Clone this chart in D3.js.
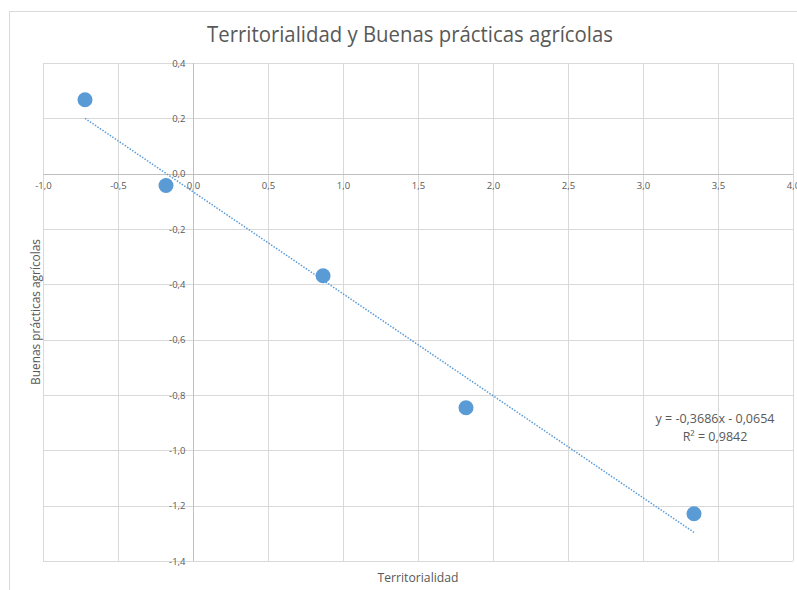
<!DOCTYPE html>
<html>
<head>
<meta charset="utf-8">
<script src="https://cdn.jsdelivr.net/npm/d3@7"></script>
<style>
	body { margin: 0; background: #fff; }
	text { font-family: 'Open Sans', sans-serif; fill: #595959; }
</style>
</head>
<body>
<div id="chart"></div>
<script>
// data
const territorialidad = [-0.72, -0.18, 0.867, 1.82, 3.34]
const buenasPracticas = [0.267, -0.043, -0.369, -0.846, -1.229]
const trend = {slope: -0.3686, intercept: -0.0654}
const trendLabels = ['y = -0,3686x - 0,0654', 'R² = 0,9842']
const xTicks = [-1.0, -0.5, 0.0, 0.5, 1.0, 1.5, 2.0, 2.5, 3.0, 3.5, 4.0]
const yTicks = [0.4, 0.2, 0.0, -0.2, -0.4, -0.6, -0.8, -1.0, -1.2, -1.4]

const width = 797, height = 590
const plot = {left: 43, right: 793, top: 63, bottom: 561}

const locale = d3.formatLocale({decimal: ',', thousands: '.', grouping: [3], currency: ['', ''], minus: '-'})
const fmt = locale.format('.1f')

const svg = d3.select('#chart').append('svg')
	.attr('width', width)
	.attr('height', height)

// chart area border
svg.append('rect')
	.attr('x', 9.5).attr('y', 11.5)
	.attr('width', 800).attr('height', 600)
	.attr('fill', 'none')
	.attr('stroke', '#d9d9d9')

const x = d3.scaleLinear().domain([-1, 4]).range([plot.left, plot.right])
const y = d3.scaleLinear().domain([-1.4, 0.4]).range([plot.bottom, plot.top])

// grid
svg.append('g')
	.selectAll('line.vg')
	.data(xTicks)
	.join('line')
	.attr('x1', d => Math.round(x(d)) + 0.5).attr('x2', d => Math.round(x(d)) + 0.5)
	.attr('y1', plot.top).attr('y2', plot.bottom)
	.attr('stroke', '#d9d9d9')

svg.append('g')
	.selectAll('line.hg')
	.data(yTicks)
	.join('line')
	.attr('y1', d => Math.round(y(d)) + 0.5).attr('y2', d => Math.round(y(d)) + 0.5)
	.attr('x1', plot.left).attr('x2', plot.right)
	.attr('stroke', '#d9d9d9')

// axes crossing at zero
const xAxis = svg.append('g')
	.attr('transform', `translate(0,${Math.round(y(0)) + 0.5})`)
	.call(d3.axisBottom(x).tickValues(xTicks).tickFormat(fmt).tickSize(0).tickPadding(8))
const yAxis = svg.append('g')
	.attr('transform', `translate(${Math.round(x(0)) + 0.5},0)`)
	.call(d3.axisLeft(y).tickValues(yTicks).tickFormat(fmt).tickSize(0).tickPadding(8))

for (const ax of [xAxis, yAxis]) {
	ax.select('.domain').attr('stroke', '#bfbfbf')
	ax.selectAll('text').style('font-size', '9.5px').attr('fill', '#808080')
}
xAxis.select('.domain').attr('d', `M${plot.left},0H${plot.right}`)
yAxis.select('.domain').attr('d', `M0,${plot.top}V${plot.bottom}`)

// trendline
const xMin = d3.min(territorialidad), xMax = d3.max(territorialidad)
svg.append('line')
	.attr('x1', x(xMin)).attr('y1', y(trend.slope * xMin + trend.intercept))
	.attr('x2', x(xMax)).attr('y2', y(trend.slope * xMax + trend.intercept))
	.attr('stroke', '#5b9bd5')
	.attr('stroke-width', 1.5)
	.attr('stroke-dasharray', '1.5,1.5')

// points
const points = territorialidad.map((v, i) => ({x: v, y: buenasPracticas[i]}))
svg.append('g')
	.selectAll('circle')
	.data(points)
	.join('circle')
	.attr('cx', d => x(d.x))
	.attr('cy', d => y(d.y))
	.attr('r', 7.5)
	.attr('fill', '#5b9bd5')

// trendline label
svg.append('g')
	.selectAll('text')
	.data(trendLabels)
	.join('text')
	.attr('x', 715)
	.attr('y', (d, i) => 423 + i * 18)
	.attr('text-anchor', 'middle')
	.style('font-size', '12.5px')
	.text(d => d)

// titles
svg.append('text')
	.attr('x', 410).attr('y', 42)
	.attr('text-anchor', 'middle')
	.attr('textLength', 406)
	.attr('lengthAdjust', 'spacingAndGlyphs')
	.style('font-size', '21px')
	.text('Territorialidad y Buenas prácticas agrícolas')

svg.append('text')
	.attr('x', 418).attr('y', 582)
	.attr('text-anchor', 'middle')
	.attr('textLength', 81)
	.attr('lengthAdjust', 'spacingAndGlyphs')
	.style('font-size', '12.5px')
	.text('Territorialidad')

svg.append('text')
	.attr('transform', `translate(40,312) rotate(-90)`)
	.attr('text-anchor', 'middle')
	.attr('textLength', 146)
	.attr('lengthAdjust', 'spacingAndGlyphs')
	.style('font-size', '12.5px')
	.text('Buenas prácticas agrícolas')
</script>
</body>
</html>
